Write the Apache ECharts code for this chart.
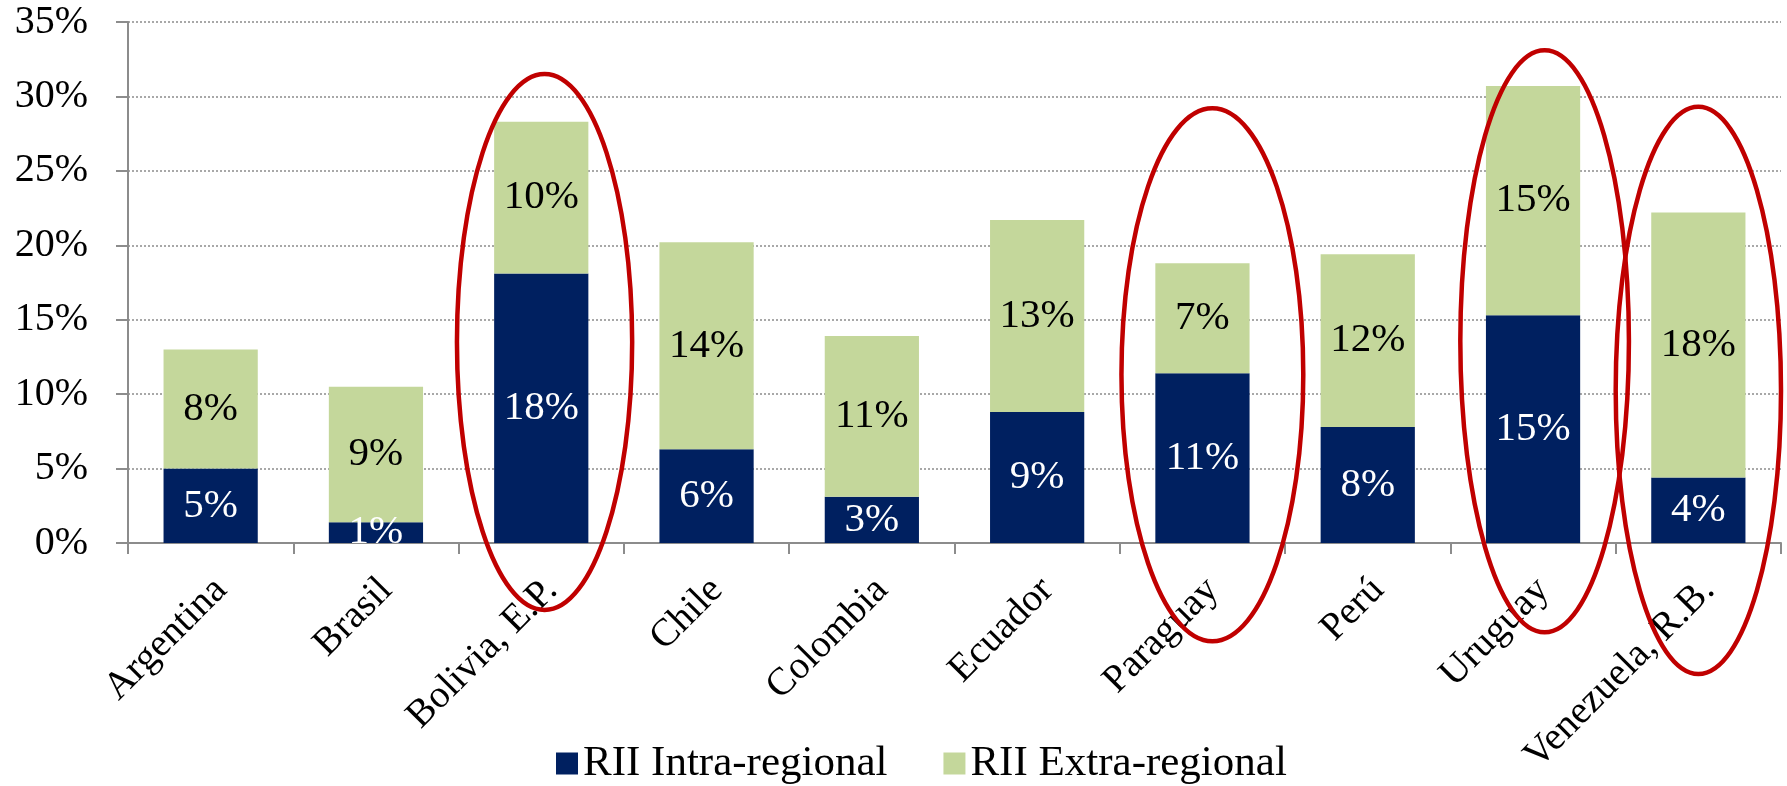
<!DOCTYPE html>
<html>
<head>
<meta charset="utf-8">
<style>html,body{margin:0;padding:0;background:#fff;}#c{width:1787px;height:786px;}</style>
<script src="https://cdn.jsdelivr.net/npm/echarts@6/dist/echarts.min.js"></script>
</head>
<body>
<div id="c"></div>
<script>
const categories = ['Argentina', 'Brasil', 'Bolivia, E.P.', 'Chile', 'Colombia', 'Ecuador', 'Paraguay', 'Perú', 'Uruguay', 'Venezuela, R.B.'];
const intraRegional = [5.0, 1.4, 18.1, 6.3, 3.1, 8.8, 11.4, 7.8, 15.3, 4.4];
const extraRegional = [8.0, 9.1, 10.2, 13.9, 10.8, 12.9, 7.4, 11.6, 15.4, 17.8];
const yTicks = [0, 5, 10, 15, 20, 25, 30, 35];
const seriesNames = ['RII Intra-regional', 'RII Extra-regional'];
// Red highlight ellipses (annotation): category, top/bottom in % units, half-width and offset in category widths
const highlightCats = ['Bolivia, E.P.', 'Paraguay', 'Uruguay', 'Venezuela, R.B.'];
const highlightTop = [31.5, 29.2, 33.1, 29.3];
const highlightBottom = [-4.5, -6.6, -6.0, -8.8];
const highlightHalfWidth = [0.53, 0.55, 0.51, 0.50];
const highlightOffset = [0.02, 0.06, 0.07, 0.0];

const FONT = '"Liberation Serif", "Times New Roman", serif';
const chart = echarts.init(document.getElementById('c'), null, {renderer: 'canvas'});
const fmt = p => Math.round(p.value) + '%';
chart.setOption({
  animation: false,
  textStyle: {fontFamily: FONT},
  grid: {left: 128, right: 6, top: 22, bottom: 243, containLabel: false},
  legend: {
    data: seriesNames,
    left: 551, top: 737,
    itemWidth: 22, itemHeight: 22, itemGap: 56,
    icon: 'rect',
    textStyle: {fontFamily: FONT, fontSize: 43, color: '#000'}
  },
  xAxis: {
    type: 'category',
    data: categories,
    axisLine: {lineStyle: {color: '#8c8c8c', width: 2}},
    axisTick: {show: true, length: 11, lineStyle: {color: '#8c8c8c', width: 2}},
    axisLabel: {rotate: 45, fontSize: 39, fontFamily: FONT, color: '#000', margin: 24, interval: 0,
                verticalAlign: 'top', padding: [0, 5, 0, 0]}
  },
  yAxis: {
    type: 'value',
    min: yTicks[0], max: yTicks[yTicks.length - 1], interval: 5,
    axisLine: {show: true, lineStyle: {color: '#8c8c8c', width: 2}},
    axisTick: {show: true, length: 12, lineStyle: {color: '#8c8c8c', width: 2}},
    axisLabel: {formatter: '{value}%', fontSize: 40, fontFamily: FONT, color: '#000', margin: 40},
    splitLine: {show: true, lineStyle: {color: '#8c8c8c', width: 1.5, type: [2, 2]}}
  },
  series: [
    {
      name: seriesNames[0], type: 'bar', stack: 'a', data: intraRegional,
      barCategoryGap: '43%',
      itemStyle: {color: '#002060'},
      label: {show: true, position: 'inside', formatter: fmt, color: '#fff', fontSize: 41, fontFamily: FONT}
    },
    {
      name: seriesNames[1], type: 'bar', stack: 'a', data: extraRegional,
      barCategoryGap: '43%',
      itemStyle: {color: '#C4D79B'},
      label: {show: true, position: 'inside', formatter: fmt, color: '#000', fontSize: 41, fontFamily: FONT}
    }
  ]
});

// Build ellipses through the chart's own coordinate system
const c0 = chart.convertToPixel({xAxisIndex: 0}, categories[0]);
const c1 = chart.convertToPixel({xAxisIndex: 0}, categories[1]);
const catW = c1 - c0;
const ellipses = highlightCats.map((cat, i) => {
  const cx = chart.convertToPixel({xAxisIndex: 0}, cat) + highlightOffset[i] * catW;
  const yt = chart.convertToPixel({yAxisIndex: 0}, highlightTop[i]);
  const yb = chart.convertToPixel({yAxisIndex: 0}, highlightBottom[i]);
  return {
    type: 'ellipse', z: 100, silent: true,
    shape: {cx: cx, cy: (yt + yb) / 2, rx: highlightHalfWidth[i] * catW, ry: Math.abs(yb - yt) / 2},
    style: {fill: null, stroke: '#C00000', lineWidth: 4.5}
  };
});
chart.setOption({graphic: ellipses});
</script>
</body>
</html>
